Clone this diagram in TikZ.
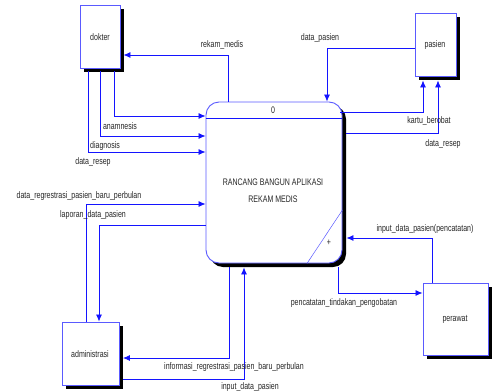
\documentclass[tikz,border=0pt]{standalone}
\usepackage{fontspec}
\setmainfont{Liberation Sans}
\usetikzlibrary{arrows.meta,shadows,calc}
\definecolor{lnblue}{RGB}{20,20,255}
\definecolor{bxblue}{RGB}{90,90,255}
\newcommand{\lb}[1]{\scalebox{0.74}[1]{\fontsize{9.5}{11}\selectfont #1}}
\tikzset{
  entity/.style={draw=bxblue, line width=0.9pt, fill=white, minimum width=#1, inner sep=0pt,
    drop shadow={shadow xshift=3.5pt, shadow yshift=-3.5pt, fill=black, opacity=1}},
  flow/.style={draw=lnblue, line width=0.8pt, -{Latex[length=7pt,width=6pt]}},
  lbltext/.style={inner sep=0pt, text=black!85},
}
\begin{document}
\begin{tikzpicture}[x=1pt,y=-1pt]
\useasboundingbox (0,0) rectangle (492,391);
% entities
\node[entity=40pt, minimum height=63pt] (dokter) at (100,36.5) {};
\node[lbltext] (tdokter) at (100,37) {\lb{dokter}};
\node[entity=41pt, minimum height=63pt] (pasien) at (435.5,44.5) {};
\node[lbltext] (tpasien) at (435,45) {\lb{pasien}};
\node[entity=57pt, minimum height=63pt] (admin) at (90.5,353.5) {};
\node[lbltext] (tadmin) at (90,354) {\lb{administrasi}};
\node[entity=65pt, minimum height=72pt] (perawat) at (455.5,319) {};
\node[lbltext] (tperawat) at (455,319) {\lb{perawat}};
% process
\node[draw=bxblue, line width=0.9pt, fill=white, rounded corners=13pt, minimum width=136pt, minimum height=161pt, inner sep=0pt,
  drop shadow={shadow xshift=4pt, shadow yshift=-4pt, fill=black, opacity=1}] (proc) at (274,182.5) {};
\draw[draw=lnblue, line width=0.8pt] ([yshift=64.5pt]proc.west) -- ([yshift=64.5pt]proc.east);
\node[lbltext] (pnum) at (273,110) {\lb{0}};
\node[lbltext, align=center] (pname) at (273,191) {\lb{RANCANG BANGUN APLIKASI}\\[5pt]\lb{REKAM MEDIS}};
\draw[draw=bxblue, line width=0.5pt] ([yshift=-27.5pt]proc.east) -- ([xshift=33pt]proc.south);
\node[lbltext] (plus) at (329,243) {\lb{+}};
% flows
\draw[flow] ([xshift=-46pt]proc.north) |- ([xshift=3pt,yshift=-18.5pt]dokter.east);
\draw[flow] ([xshift=14pt,yshift=-3pt]dokter.south) |- ([yshift=66.5pt]proc.west);
\draw[flow] ([yshift=-3pt]dokter.south) |- ([yshift=46.5pt]proc.west);
\draw[flow] ([xshift=-12pt,yshift=-3pt]dokter.south) |- ([yshift=30.5pt]proc.west);
\draw[flow] ([yshift=-3.5pt]pasien.west) -| ([xshift=53pt]proc.north);
\draw[flow] ([xshift=-2pt,yshift=70.5pt]proc.east) -| ([xshift=-12.5pt,yshift=-4pt]pasien.south);
\draw[flow] ([xshift=4pt,yshift=49.5pt]proc.east) -| ([xshift=2.5pt,yshift=-4pt]pasien.south);
\draw[flow] ([xshift=-4.5pt]admin.north) |- ([yshift=-21.5pt]proc.west);
\draw[flow] ([yshift=-42.5pt]proc.west) -| ([xshift=8.5pt]admin.north);
\draw[flow] ([xshift=-45pt,yshift=-4pt]proc.south) |- ([xshift=3.5pt,yshift=-4.5pt]admin.east);
\draw[flow] ([xshift=3.5pt,yshift=-26pt]admin.east) -| ([xshift=-30pt,yshift=-4pt]proc.south);
\draw[flow] ([xshift=-23.5pt]perawat.north) |- ([xshift=4pt,yshift=-55.5pt]proc.east);
\draw[flow] ([xshift=64pt,yshift=-4pt]proc.south) |- ([yshift=26pt]perawat.west);
% flow labels
\node[lbltext] (l1) at (222,45) {\lb{rekam\_medis}};
\node[lbltext] (l2) at (120,126) {\lb{anamnesis}};
\node[lbltext] (l3) at (105,146) {\lb{diagnosis}};
\node[lbltext] (l4) at (93,162) {\lb{data\_resep}};
\node[lbltext] (l5) at (320,38) {\lb{data\_pasien}};
\node[lbltext] (l6) at (429,121) {\lb{kartu\_berobat}};
\node[lbltext] (l7) at (443,144) {\lb{data\_resep}};
\node[lbltext] (l8) at (79,196) {\lb{data\_regrestrasi\_pasien\_baru\_perbulan}};
\node[lbltext] (l9) at (93,215) {\lb{laporan\_data\_pasien}};
\node[lbltext] (l10) at (234,367) {\lb{informasi\_regrestrasi\_pasien\_baru\_perbulan}};
\node[lbltext] (l11) at (250,387) {\lb{input\_data\_pasien}};
\node[lbltext] (l12) at (425,229) {\lb{input\_data\_pasien(pencatatan)}};
\node[lbltext] (l13) at (344,303) {\lb{pencatatan\_tindakan\_pengobatan}};
\end{tikzpicture}
\end{document}
